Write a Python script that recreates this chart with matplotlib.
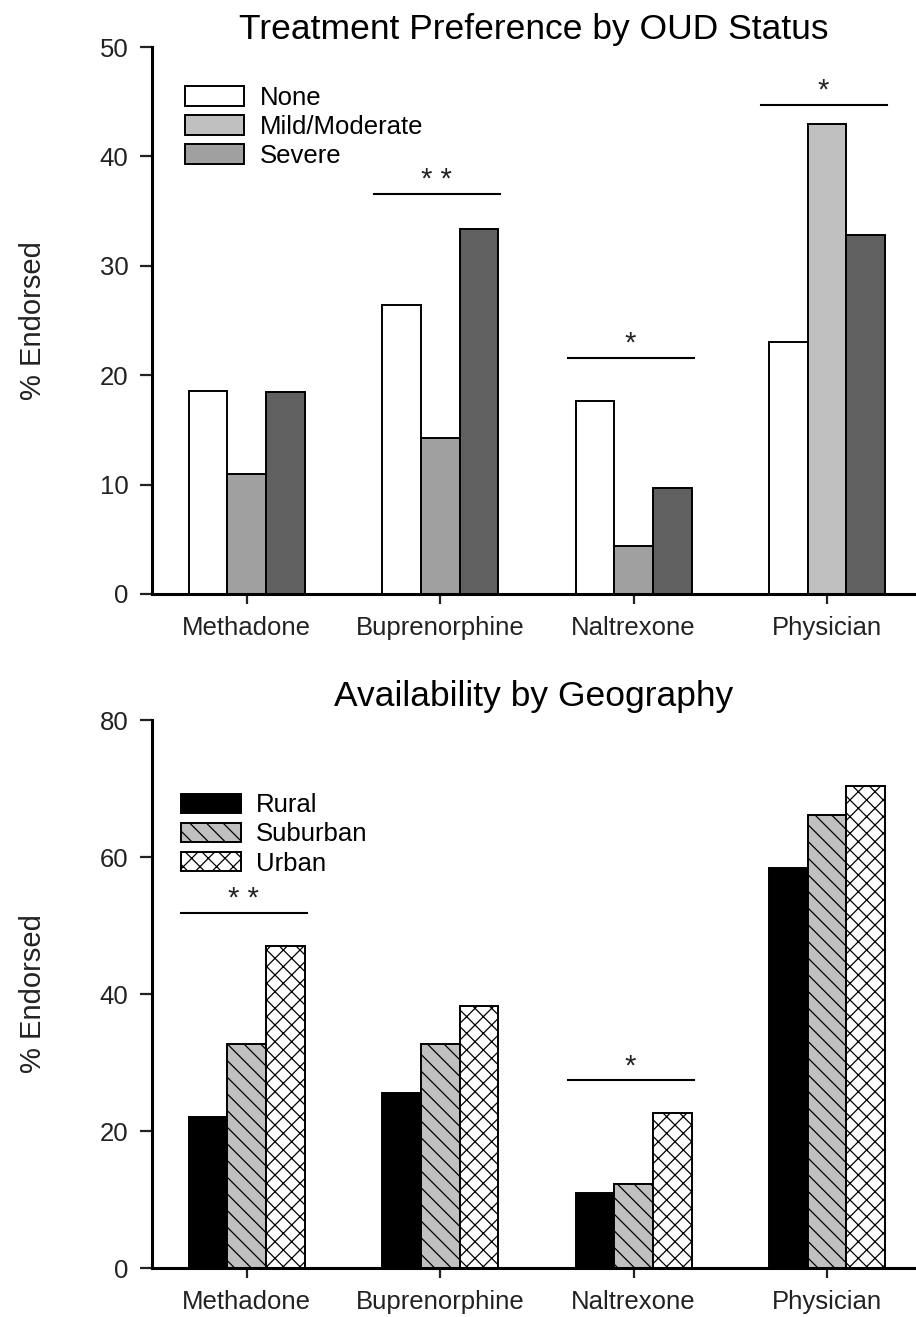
import matplotlib.pyplot as plt
import numpy as np
from matplotlib.patches import Patch

plt.rcParams['font.family'] = ['Liberation Sans', 'DejaVu Sans']
plt.rcParams['hatch.linewidth'] = 0.9

categories = ['Methadone', 'Buprenorphine', 'Naltrexone', 'Physician']

# top panel: treatment preference by OUD status
oud_labels = ['None', 'Mild/Moderate', 'Severe']
oud_none = [18.6, 26.4, 17.6, 23.0]
oud_mild = [11.0, 14.3, 4.4, 43.0]
oud_severe = [18.5, 33.4, 9.7, 32.8]
oud_sig = ['', '**', '*', '*']
oud_sig_y = [None, 36.6, 21.6, 44.7]

# bottom panel: availability by geography
geo_labels = ['Rural', 'Suburban', 'Urban']
geo_rural = [22.0, 25.6, 11.0, 58.4]
geo_suburban = [32.7, 32.7, 12.2, 66.1]
geo_urban = [47.0, 38.3, 22.6, 70.4]
geo_sig = ['**', '', '*', '']
geo_sig_y = [51.8, None, 27.4, None]

FS = 18.5
x = np.arange(len(categories))
w = 0.2


def style_axis(ax, ymax, ystep):
    ax.spines['top'].set_visible(False)
    ax.spines['right'].set_visible(False)
    ax.spines['left'].set_linewidth(2.2)
    ax.spines['bottom'].set_linewidth(2.2)
    ax.set_xlim(-0.49, 3.46)
    ax.set_ylim(0, ymax)
    ax.set_yticks(np.arange(0, ymax + 1, ystep))
    ax.set_xticks(x)
    ax.set_xticklabels(categories)
    ax.tick_params(axis='y', length=9, width=1.6, pad=8, labelsize=FS, colors='#222222')
    ax.tick_params(axis='x', length=7, width=1.6, pad=9, labelsize=FS, colors='#222222')
    ax.set_ylabel('% Endorsed', fontsize=21, color='#222222')
    ax.yaxis.set_label_coords(-0.138, 0.5)


def add_sig(ax, marks, ys):
    for i, (m, yv) in enumerate(zip(marks, ys)):
        if not m:
            continue
        ax.plot([i - 0.34, i + 0.31], [yv, yv], color='black', lw=1.5)
        ax.text(i - 0.02, yv, ' '.join(m), ha='center', va='bottom',
                fontsize=21, color='#222222')


fig = plt.figure(figsize=(9.16, 13.17), dpi=100)

# --- top panel ---
ax1 = fig.add_axes([0.166, 0.549, 0.834, 0.4153])
mild_colors = ['#a0a0a0', '#a0a0a0', '#a0a0a0', '#c0c0c0']
ax1.bar(x - w, oud_none, w, color='white', edgecolor='black', lw=1.4)
ax1.bar(x, oud_mild, w, color=mild_colors, edgecolor='black', lw=1.4)
ax1.bar(x + w, oud_severe, w, color='#606060', edgecolor='black', lw=1.4)
style_axis(ax1, 50, 10)
add_sig(ax1, oud_sig, oud_sig_y)
ax1.set_title('Treatment Preference by OUD Status', fontsize=25.5, pad=6)
h1 = [Patch(facecolor=c, edgecolor='black', lw=1.4) for c in ['white', '#c0c0c0', '#a0a0a0']]
ax1.legend(h1, oud_labels, loc='upper left', bbox_to_anchor=(0.03, 0.948),
           frameon=False, fontsize=FS, handlelength=2.3, handleheight=0.8,
           labelspacing=0.2, handletextpad=0.6, borderaxespad=0)

# --- bottom panel ---
ax2 = fig.add_axes([0.166, 0.0372, 0.834, 0.4161])
ax2.bar(x - w, geo_rural, w, color='black', edgecolor='black', lw=1.4)
ax2.bar(x, geo_suburban, w, color='#c0c0c0', edgecolor='black', lw=1.4, hatch='\\\\')
ax2.bar(x + w, geo_urban, w, color='white', edgecolor='black', lw=1.4, hatch='xx')
style_axis(ax2, 80, 20)
add_sig(ax2, geo_sig, geo_sig_y)
ax2.set_title('Availability by Geography', fontsize=25.5, pad=10)
h2 = [Patch(facecolor='black', edgecolor='black', lw=1.4),
      Patch(facecolor='#c0c0c0', edgecolor='black', lw=1.4, hatch='\\\\'),
      Patch(facecolor='white', edgecolor='black', lw=1.4, hatch='xx')]
ax2.legend(h2, geo_labels, loc='upper left', bbox_to_anchor=(0.025, 0.885),
           frameon=False, fontsize=FS, handlelength=2.3, handleheight=0.8,
           labelspacing=0.2, handletextpad=0.6, borderaxespad=0)

fig.savefig('out.png', dpi=100)
